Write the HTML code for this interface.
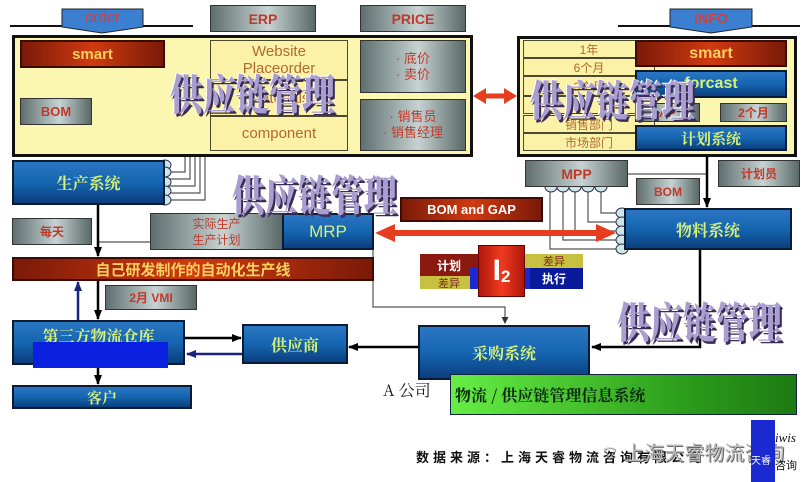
<!DOCTYPE html>
<html><head><meta charset="utf-8"><style>
*{margin:0;padding:0;box-sizing:border-box}
body{width:805px;height:482px;background:#fff;position:relative;overflow:hidden;font-family:"Liberation Sans","Noto Sans CJK SC",sans-serif}
.a{position:absolute}
.c{display:flex;align-items:center;justify-content:center;text-align:center}
.gray{background:linear-gradient(90deg,#5f6e6e,#c7d3d3 55%,#5a6868);border:1px solid #333;color:#c0392b;font-weight:bold}
.blue{background:linear-gradient(180deg,#2b76c2,#1565b0 50%,#0b3f7e);border:2px solid #0b1b33;color:#d6f07a;font-family:"Noto Serif CJK SC","Liberation Serif",serif;font-weight:bold}
.red{background:linear-gradient(90deg,#7a1a08,#d03a10 50%,#7a1a08);border:2px solid #3b0b05;color:#f8d060;font-weight:bold}
.yel{background:#fbf2a8;border:1px solid #4a4a30;color:#b06a30}
.wm{position:absolute;font-family:"Noto Serif CJK SC","Noto Sans CJK SC",serif;font-weight:900;color:#a99ed0;text-shadow:2px 2px 0 #3b2c55,-1px -1px 0 #fff;white-space:nowrap;font-size:33px;transform:scaleY(1.3);transform-origin:top left}
</style></head><body>
<svg class="a" style="left:0;top:0" width="805" height="482">
<defs><marker id="ar" markerUnits="userSpaceOnUse" markerWidth="10" markerHeight="10" refX="9" refY="5" orient="auto"><path d="M0,1 L10,5 L0,9z" fill="#000"/></marker>
<marker id="as" markerUnits="userSpaceOnUse" markerWidth="7" markerHeight="7" refX="6" refY="3.5" orient="auto"><path d="M0,0 L7,3.5 L0,7z" fill="#333"/></marker>
<marker id="ab" markerUnits="userSpaceOnUse" markerWidth="10" markerHeight="10" refX="9" refY="5" orient="auto"><path d="M0,1 L10,5 L0,9z" fill="#1a237e"/></marker></defs>
<path d="M10,26 H193 M618,26 H800" stroke="#111" stroke-width="2"/>
<path d="M62,9 H143 V27 L102,33 L62,27Z" fill="#3a7fd0" stroke="#222"/>
<path d="M670,9 H752 V27 L711,33 L670,27Z" fill="#3a7fd0" stroke="#222"/>
<g stroke="#555" fill="none" stroke-width="1.2">
<path d="M98,88 H205 V200 H165"/><path d="M98,102 H200 V193 H165"/><path d="M98,115 H195 V186 H165"/><path d="M98,129 H190 V179 H165"/><path d="M98,143 H185 V172 H165"/>
<path d="M98,242 H150 M150,232 H282"/>
<path d="M373,250 V307 H505 V323" marker-end="url(#as)"/>
<path d="M550,187 V249 H620 M563,187 V240 H620 M575,187 V231 H620 M588,187 V222 H620 M601,187 V213 H620"/>
<path d="M628,174 H707"/>
</g>
<g stroke="#000" stroke-width="2.5" fill="none">
<path d="M98,68 V157" /><path d="M98,205 V256" marker-end="url(#ar)"/><path d="M98,281 V319" marker-end="url(#ar)"/><path d="M98,368 V384" marker-end="url(#ar)"/>
<path d="M707,151 V207" marker-end="url(#ar)"/><path d="M700,250 V347 H592" marker-end="url(#ar)"/>
<path d="M418,347 H349" marker-end="url(#ar)"/><path d="M185,338 H241" marker-end="url(#ar)"/>
</g>
<path d="M242,354 H187" stroke="#1a237e" stroke-width="2.5" marker-end="url(#ab)"/>
<path d="M78,320 V282" stroke="#1a237e" stroke-width="2.5" marker-end="url(#ab)"/>
<path d="M388,233 H603" stroke="#e53d1e" stroke-width="6"/>
<path d="M375,233 L395,224 L395,242Z M616,233 L596,224 L596,242Z" fill="#e53d1e"/>
<path d="M483,96 H508" stroke="#e53d1e" stroke-width="5"/>
<path d="M473,96 L486,88 L486,104Z M517,96 L504,88 L504,104Z" fill="#e53d1e"/>
<g fill="#cfe6e6" stroke="#335">
<ellipse cx="98" cy="88" rx="6" ry="5"/><ellipse cx="98" cy="102" rx="6" ry="5"/><ellipse cx="98" cy="115" rx="6" ry="5"/><ellipse cx="98" cy="129" rx="6" ry="5"/><ellipse cx="98" cy="143" rx="6" ry="5"/>
<ellipse cx="165" cy="165" rx="6" ry="5"/><ellipse cx="165" cy="172" rx="6" ry="5"/><ellipse cx="165" cy="182" rx="6" ry="5"/><ellipse cx="165" cy="191" rx="6" ry="5"/><ellipse cx="165" cy="200" rx="6" ry="5"/>
<ellipse cx="551" cy="187" rx="6" ry="5"/><ellipse cx="563" cy="187" rx="6" ry="5"/><ellipse cx="575" cy="187" rx="6" ry="5"/><ellipse cx="588" cy="187" rx="6" ry="5"/><ellipse cx="601" cy="187" rx="6" ry="5"/>
<ellipse cx="622" cy="213" rx="6" ry="5"/><ellipse cx="622" cy="222" rx="6" ry="5"/><ellipse cx="622" cy="231" rx="6" ry="5"/><ellipse cx="622" cy="240" rx="6" ry="5"/><ellipse cx="622" cy="249" rx="6" ry="5"/>
</g>
</svg>
<div class="a c" style="left:62px;top:9px;width:81px;height:17px;color:#d04040;font-size:15px">order</div>
<div class="a c" style="left:670px;top:9px;width:82px;height:17px;color:#d04040;font-size:14px;font-weight:bold">INFO</div>
<div class="a c gray" style="left:210px;top:5px;width:106px;height:27px;font-size:14px">ERP</div>
<div class="a c gray" style="left:360px;top:5px;width:106px;height:27px;font-size:14px">PRICE</div>

<div class="a" style="left:12px;top:35px;width:461px;height:122px;background:#fbf6b0;border:3px solid #111"></div>
<div class="a c red" style="left:20px;top:40px;width:145px;height:28px;font-size:15px">smart</div>
<div class="a c gray" style="left:20px;top:98px;width:72px;height:27px;font-size:13px">BOM</div>
<div class="a c yel" style="left:210px;top:40px;width:138px;height:40px;font-size:15px;line-height:17px;flex-direction:column">Website<span>Placeorder</span></div>
<div class="a c yel" style="left:210px;top:80px;width:138px;height:36px;font-size:15px">Materials</div>
<div class="a c yel" style="left:210px;top:116px;width:138px;height:35px;font-size:15px">component</div>
<div class="a c gray" style="left:360px;top:40px;width:106px;height:53px;font-size:13px;line-height:16px;flex-direction:column;font-weight:normal">· 底价<span>· 卖价</span></div>
<div class="a c gray" style="left:360px;top:99px;width:106px;height:52px;font-size:13px;line-height:16px;flex-direction:column;font-weight:normal">· 销售员<span>· 销售经理</span></div>

<div class="a" style="left:517px;top:36px;width:280px;height:121px;background:#fbf6b0;border:3px solid #111"></div>
<div class="a c yel" style="left:523px;top:40px;width:132px;height:18px;font-size:12px">1年</div>
<div class="a c yel" style="left:523px;top:58px;width:132px;height:18px;font-size:12px">6个月</div>
<div class="a c yel" style="left:523px;top:76px;width:132px;height:20px;font-size:12px">3个月</div>
<div class="a c yel" style="left:523px;top:96px;width:132px;height:18px;font-size:12px"></div>
<div class="a c yel" style="left:523px;top:115px;width:132px;height:18px;font-size:12px">销售部门</div>
<div class="a c yel" style="left:523px;top:133px;width:132px;height:18px;font-size:12px">市场部门</div>
<div class="a c red" style="left:635px;top:40px;width:152px;height:27px;font-size:16px">smart</div>
<div class="a c blue" style="left:635px;top:70px;width:152px;height:28px;font-size:16px;font-family:'Liberation Sans',sans-serif">forcast</div>
<div class="a c gray" style="left:635px;top:103px;width:65px;height:19px;font-size:12px">AP</div>
<div class="a c gray" style="left:720px;top:103px;width:67px;height:19px;font-size:12px">2个月</div>
<div class="a c blue" style="left:635px;top:125px;width:152px;height:26px;font-size:15px">计划系统</div>

<div class="a c blue" style="left:12px;top:160px;width:153px;height:45px;font-size:16px">生产系统</div>
<div class="a c gray" style="left:12px;top:218px;width:80px;height:27px;font-size:12px">每天</div>
<div class="a c gray" style="left:150px;top:213px;width:133px;height:37px;font-size:12px;line-height:16px;flex-direction:column;font-weight:normal">实际生产<span>生产计划</span></div>
<div class="a c blue" style="left:282px;top:213px;width:92px;height:37px;font-size:17px;font-family:'Liberation Sans',sans-serif;font-weight:normal">MRP</div>
<div class="a c red" style="left:400px;top:197px;width:143px;height:25px;font-size:13px;color:#fff">BOM and GAP</div>
<div class="a c red" style="left:12px;top:257px;width:362px;height:24px;font-size:15px">自己研发制作的自动化生产线</div>
<div class="a c gray" style="left:105px;top:285px;width:92px;height:25px;font-size:12px">2月 VMI</div>

<div class="a c" style="left:420px;top:254px;width:58px;height:22px;background:#8a1a10;color:#fff;font-size:12px;font-weight:bold">计划</div>
<div class="a c" style="left:420px;top:276px;width:58px;height:13px;background:#c8c040;color:#7a2a20;font-size:11px">差异</div>
<div class="a c" style="left:525px;top:254px;width:58px;height:14px;background:#c8c040;color:#7a2a20;font-size:11px">差异</div>
<div class="a c" style="left:525px;top:268px;width:58px;height:21px;background:#0a1a9a;color:#fff;font-size:12px;font-weight:bold">执行</div>
<div class="a" style="left:470px;top:268px;width:60px;height:21px;background:#1a2ad0"></div>
<div class="a c" style="left:478px;top:245px;width:47px;height:52px;background:linear-gradient(90deg,#b0180c,#f03a20,#b0180c);border:1px solid #600;color:#fff;font-size:30px;font-weight:bold">I<span style="font-size:17px;margin-top:12px">2</span></div>

<div class="a c gray" style="left:525px;top:160px;width:103px;height:27px;font-size:14px">MPP</div>
<div class="a c gray" style="left:636px;top:178px;width:64px;height:27px;font-size:12px">BOM</div>
<div class="a c gray" style="left:718px;top:160px;width:82px;height:27px;font-size:12px">计划员</div>
<div class="a c blue" style="left:624px;top:208px;width:168px;height:42px;font-size:16px">物料系统</div>

<div class="a blue" style="left:12px;top:320px;width:173px;height:45px;font-size:16px;text-align:center;padding-top:2px">第三方物流仓库</div>
<div class="a" style="left:33px;top:342px;width:135px;height:26px;background:#0a20e0"></div>
<div class="a c blue" style="left:242px;top:324px;width:106px;height:40px;font-size:16px">供应商</div>
<div class="a c blue" style="left:418px;top:325px;width:172px;height:55px;font-size:16px">采购系统</div>
<div class="a c blue" style="left:12px;top:385px;width:180px;height:24px;font-size:15px">客户</div>
<div class="a" style="left:383px;top:378px;font-family:'Noto Serif CJK SC',serif;font-size:16px;color:#111">A 公司</div>
<div class="a" style="left:450px;top:374px;width:347px;height:41px;background:linear-gradient(90deg,#66ee44,#2a9a1a 70%,#1e7a12);border:1px solid #124;color:#0a2a10;font-family:'Noto Serif CJK SC',serif;font-weight:bold;font-size:16px;padding:8px 0 0 4px">物流 / 供应链管理信息系统</div>

<div class="wm" style="left:170px;top:62px">供应链管理</div>
<div class="wm" style="left:232px;top:163px">供应链管理</div>
<div class="wm" style="left:530px;top:68px">供应链管理</div>
<div class="wm" style="left:617px;top:290px">供应链管理</div>

<div class="a" style="left:416px;top:447px;font-size:13px;font-weight:bold;letter-spacing:4px;color:#111">数据来源：上海天睿物流咨询有限公司</div>
<div class="a" style="left:600px;top:437px;font-size:20px;color:#bbb;text-shadow:1px 1px 0 #666">⌔ 上海天睿物流咨询</div>
<div class="a" style="left:751px;top:420px;width:24px;height:62px;background:#1a2ad0;color:#fff;font-size:10px;padding-top:36px;line-height:12px">天睿</div>
<div class="a" style="left:775px;top:430px;font-family:'Liberation Serif',serif;font-style:italic;font-size:13px;color:#111">iwis</div>
<div class="a" style="left:775px;top:457px;font-size:11px;color:#111">咨询</div>
</body></html>
